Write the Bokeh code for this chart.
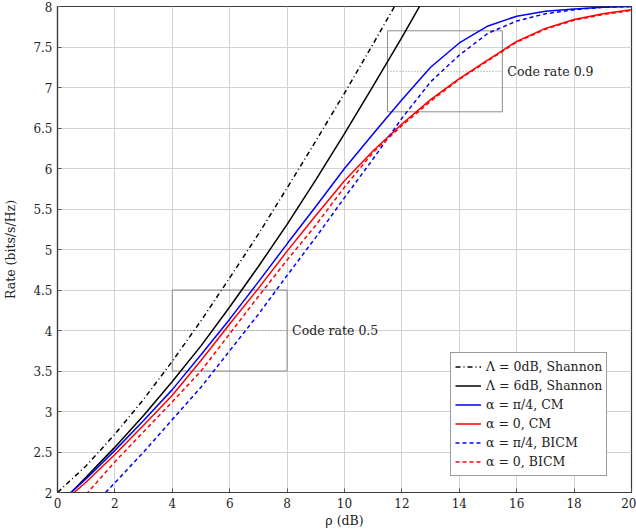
from bokeh.plotting import figure
from bokeh.models import Range1d, FixedTicker, Legend, LegendItem
from bokeh.core.properties import value
from bokeh.embed import file_html
from bokeh.resources import INLINE

# ---- data -------------------------------------------------------------
# SNR grid (dB)
snr = list(range(0, 21))

# Shannon capacity curves
snr_shannon_0db = list(range(0, 13))
rate_shannon_0db = [2.0, 2.33, 2.72, 3.15, 3.62, 4.12, 4.65, 5.19, 5.76, 6.34, 6.93, 7.54, 8.16]
snr_shannon_6db = list(range(0, 14))
rate_shannon_6db = [1.83, 2.19, 2.56, 2.95, 3.37, 3.81, 4.29, 4.79, 5.31, 5.86, 6.43, 7.02, 7.62, 8.24]

# Coded modulation (CM)
rate_cm_pi4 = [1.85, 2.17, 2.52, 2.89, 3.27, 3.70, 4.14, 4.60, 5.07, 5.53, 6.00,
               6.43, 6.85, 7.25, 7.55, 7.76, 7.88, 7.94, 7.97, 7.99, 8.00]
rate_cm_0 = [1.82, 2.13, 2.47, 2.83, 3.20, 3.63, 4.08, 4.52, 4.98, 5.42, 5.85,
             6.22, 6.55, 6.85, 7.11, 7.34, 7.57, 7.73, 7.84, 7.91, 7.96]

# Bit-interleaved coded modulation (BICM)
snr_bicm = list(range(1, 21))
rate_bicm_pi4 = [1.75, 2.12, 2.50, 2.90, 3.30, 3.75, 4.20, 4.68, 5.15, 5.64,
                 6.12, 6.62, 7.07, 7.40, 7.67, 7.82, 7.91, 7.96, 7.99, 8.00]
rate_bicm_0 = [1.98, 2.38, 2.75, 3.12, 3.50, 3.96, 4.42, 4.87, 5.30, 5.77,
               6.20, 6.53, 6.83, 7.10, 7.33, 7.56, 7.72, 7.83, 7.90, 7.95]

# Code-rate markers
code_rate_labels = ["Code rate 0.5", "Code rate 0.9"]
code_rate_level = [4.0, 7.2]
box_left = [4.0, 11.5]
box_right = [8.0, 15.5]
box_bottom = [3.5, 6.7]
box_top = [4.5, 7.7]

x_ticks = list(range(0, 21, 2))
y_ticks = [2, 2.5, 3, 3.5, 4, 4.5, 5, 5.5, 6, 6.5, 7, 7.5, 8]
y_tick_labels = ["2", "2.5", "3", "3.5", "4", "4.5", "5", "5.5", "6", "6.5", "7", "7.5", "8"]

legend_labels = ["Λ = 0dB, Shannon", "Λ = 6dB, Shannon", "α = π/4, CM",
                 "α = 0, CM", "α = π/4, BICM", "α = 0, BICM"]

# ---- figure -----------------------------------------------------------
FONT = "DejaVu Serif"
TXT = "#222222"

p = figure(width=636, height=530, output_backend="svg", toolbar_location=None,
           x_range=Range1d(0, 20), y_range=Range1d(2, 8),
           min_border_left=55, min_border_right=5, min_border_top=6, min_border_bottom=36)
p.background_fill_color = "white"
p.border_fill_color = "white"
p.outline_line_color = "#3a3a3a"
p.outline_line_width = 1.2

p.xaxis.ticker = FixedTicker(ticks=x_ticks)
p.yaxis.ticker = FixedTicker(ticks=y_ticks)
p.yaxis.major_label_overrides = {t: s for t, s in zip(y_ticks, y_tick_labels)}

for ax in (p.xaxis[0], p.yaxis[0]):
    ax.axis_line_color = "#3a3a3a"
    ax.axis_line_width = 1.2
    ax.major_tick_in = 4
    ax.major_tick_out = 0
    ax.minor_tick_in = 0
    ax.minor_tick_out = 0
    ax.major_tick_line_color = "#555555"
    ax.major_label_text_font = FONT
    ax.major_label_text_font_size = "12px"
    ax.major_label_text_color = TXT
    ax.axis_label_text_font = FONT
    ax.axis_label_text_font_size = "12.5px"
    ax.axis_label_text_font_style = "normal"
    ax.axis_label_text_color = TXT

p.xaxis.axis_label = "ρ (dB)"
p.xaxis.major_label_standoff = 5
p.xaxis.axis_label_standoff = 2
p.yaxis.axis_label = "Rate (bits/s/Hz)"
p.yaxis.major_label_standoff = 5
p.yaxis.axis_label_standoff = 12

p.grid.grid_line_color = "#d2d2d2"
p.grid.grid_line_width = 1

# code-rate boxes and guide lines
p.quad(left=box_left, right=box_right, bottom=box_bottom, top=box_top,
       fill_color=None, line_color="#8c8c8c", line_width=1)
p.segment(x0=box_left, x1=box_right, y0=code_rate_level, y1=code_rate_level,
          line_color="#8c8c8c", line_width=1, line_dash="1 2")
p.text(x=box_right, y=code_rate_level, text=code_rate_labels, x_offset=5,
       text_baseline="middle", text_align="left", text_color=TXT,
       text_font=value(FONT), text_font_size="12.5px")

# curves
lw = 1.5
r1 = p.line(snr_shannon_0db, rate_shannon_0db, line_color="black", line_width=lw, line_dash="5 3 1 3")
r2 = p.line(snr_shannon_6db, rate_shannon_6db, line_color="black", line_width=lw)
r3 = p.line(snr, rate_cm_pi4, line_color="#0000ff", line_width=lw)
r4 = p.line(snr, rate_cm_0, line_color="#ff0000", line_width=lw)
r5 = p.line(snr_bicm, rate_bicm_pi4, line_color="#0000ff", line_width=lw, line_dash="4 3")
r6 = p.line(snr_bicm, rate_bicm_0, line_color="#ff0000", line_width=lw, line_dash="4 3")

legend = Legend(items=[LegendItem(label=lab, renderers=[r]) for lab, r in
                       zip(legend_labels, [r1, r2, r3, r4, r5, r6])],
                location=(393, 16))
legend.label_text_font = FONT
legend.label_text_font_size = "12.5px"
legend.label_text_color = TXT
legend.label_height = 19
legend.glyph_height = 19
legend.glyph_width = 26
legend.label_standoff = 5
legend.spacing = 0
legend.padding = 4
legend.margin = 0
legend.border_line_color = "#3a3a3a"
legend.border_line_width = 1
legend.background_fill_color = "white"
legend.background_fill_alpha = 1
p.add_layout(legend, "center")

open("out.html", "w").write(file_html(p, INLINE))
